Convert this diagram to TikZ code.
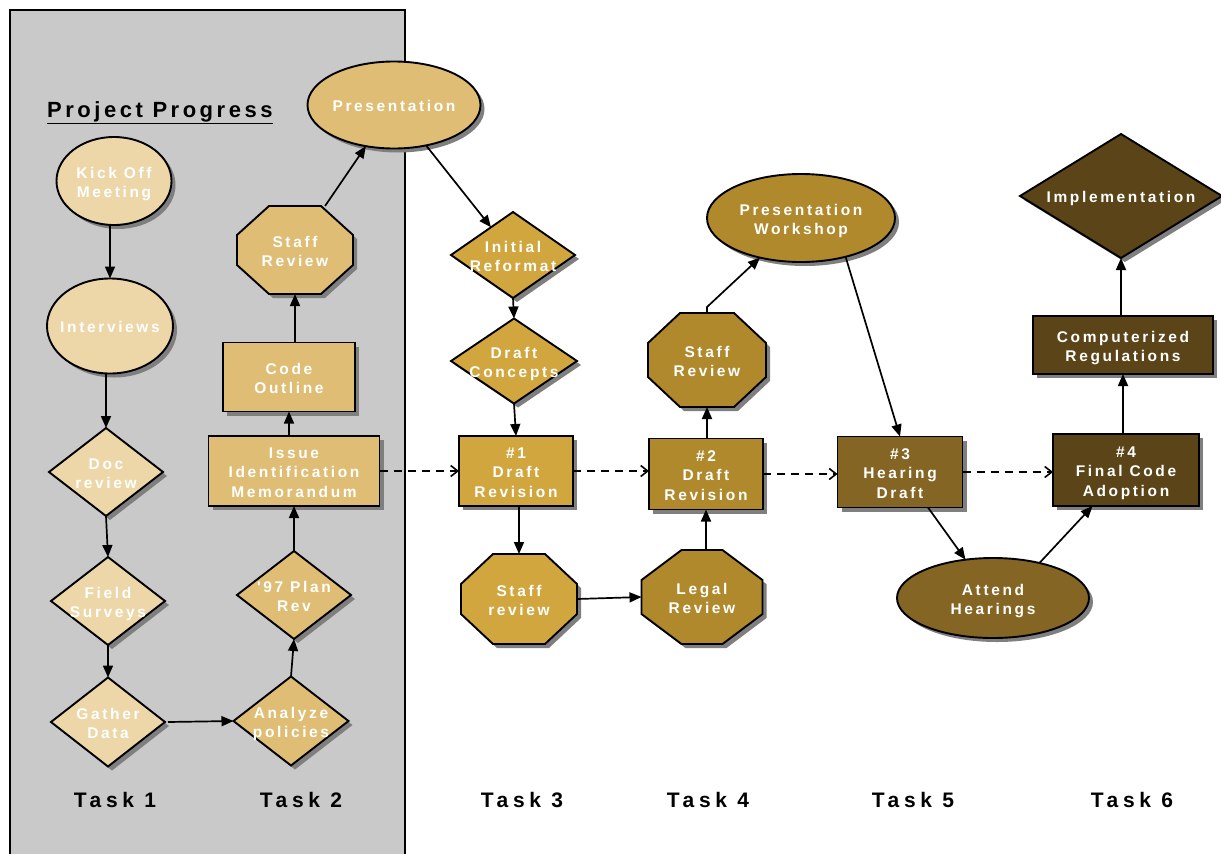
\documentclass[tikz,border=0pt]{standalone}
\usepackage{fontspec}
\setmainfont{Liberation Sans}
\newfontfamily\nodefont{Liberation Sans}[LetterSpace=17]
\newfontfamily\taskfont{Liberation Sans}[LetterSpace=22]
\newfontfamily\titlefont{Liberation Sans}[LetterSpace=16]
\usetikzlibrary{shapes.geometric,arrows.meta,calc}

\definecolor{cA}{HTML}{EDD7A8}
\definecolor{cB}{HTML}{DFBD74}
\definecolor{cC}{HTML}{D1A63F}
\definecolor{cD}{HTML}{B0892D}
\definecolor{cE}{HTML}{846524}
\definecolor{cF}{HTML}{5A4418}
\definecolor{panel}{HTML}{C9C9C9}
\definecolor{shadowcol}{HTML}{7F7F7F}

\newcommand\nt[1]{\makebox[0pt]{\smash{\raisebox{-6.5pt}{\fontsize{15.5}{19.5}\selectfont\nodefont\bfseries\color{white}\begin{tabular}{@{}c@{}}#1\end{tabular}}}}}

\tikzset{
  base/.style={inner sep=0pt, outer sep=0pt, draw=black, line width=1.9pt},
  shadowst/.style={draw=none, fill=shadowcol},
  ell/.style={base, ellipse},
  dia/.style={base, diamond},
  box/.style={base, rectangle},
  octfill/.style={draw=black, line width=1.9pt, line join=miter},
  hidden/.style={rectangle, inner sep=0pt, outer sep=0pt},
  arr/.style={line width=1.7pt, -{Triangle[length=12pt,width=10pt]}},
  darr/.style={line width=1.7pt, dash pattern=on 8pt off 6pt, -{Straight Barb[length=7pt,width=11pt,line width=1.6pt]}},
  task/.style={anchor=base, font=\fontsize{21}{25}\selectfont\taskfont\bfseries, inner sep=0pt}
}

% #1 style, #2 name, #3 x, #4 y, #5 w, #6 h, #7 colour, #8 text
\newcommand\shp[8]{%
  \node[#1, shadowst, minimum width=#5, minimum height=#6] (#2-sh) at (#3+4,#4+4) {};
  \node[#1, fill=#7, minimum width=#5, minimum height=#6] (#2) at (#3,#4) {\nt{#8}};
}
% octagon: #1 name, #2 x, #3 y, #4 w, #5 h, #6 cx, #7 cy, #8 colour, #9 text
\newcommand\octpath[4]{({-#1/2+#3},{-#2/2}) -- ({#1/2-#3},{-#2/2}) -- ({#1/2},{-#2/2+#4}) -- ({#1/2},{#2/2-#4}) -- ({#1/2-#3},{#2/2}) -- ({-#1/2+#3},{#2/2}) -- ({-#1/2},{#2/2-#4}) -- ({-#1/2},{-#2/2+#4}) -- cycle}
\newcommand\oct[9]{%
  \fill[shadowcol, shift={(#2+4,#3+4)}] \octpath{#4}{#5}{#6}{#7};
  \filldraw[octfill, fill=#8, shift={(#2,#3)}] \octpath{#4}{#5}{#6}{#7};
  \node[hidden, minimum width=#4, minimum height=#5] (#1) at (#2,#3) {\nt{#9}};
}

\begin{document}
\begin{tikzpicture}[x=1pt,y=-1pt]
\useasboundingbox (0,0) rectangle (1221,854);
\fill[white] (0,0) rectangle (1221,854);
% gray panel
\draw[fill=panel, line width=1.5pt] (10,870) -- (10,10) -- (405,10) -- (405,870);

% title
\node[anchor=base west, inner sep=0pt, font=\fontsize{22}{26}\selectfont\titlefont\bfseries] (title) at (47,117) {\underline{Project Progress}};

% Task 1
\shp{ell}{ko}{114}{181}{115}{88}{cA}{Kick Off\\Meeting}
\shp{ell}{iv}{110}{326}{126}{95}{cA}{Interviews}
\shp{dia}{dr}{106}{472}{114}{88}{cA}{Doc\\review}
\shp{dia}{fs}{108}{601}{114}{88}{cA}{Field\\Surveys}
\shp{dia}{gd}{108}{722}{114}{89}{cA}{Gather\\Data}

% Task 2
\shp{dia}{ap}{291}{721}{115}{89}{cB}{Analyze\\policies}
\shp{dia}{pr}{294}{595}{114}{88}{cB}{'97 Plan\\Rev}
\shp{box}{im}{294}{471}{171}{70}{cB}{Issue\\Identification\\Memorandum}
\shp{box}{co}{289}{377}{132}{69}{cB}{Code\\Outline}
\oct{sr2}{295}{250}{116}{88}{32}{29}{cB}{Staff\\Review}
\shp{ell}{pres}{394}{105}{173}{87}{cB}{Presentation}

% Task 3
\shp{dia}{ir}{513}{255}{124}{86}{cC}{Initial\\Reformat}
\shp{dia}{dc}{514}{361}{126}{85}{cC}{Draft\\Concepts}
\shp{box}{d1}{516}{471}{114}{70}{cC}{\#1\\Draft\\Revision}
\oct{sr3}{519}{599}{116}{90}{32}{30}{cC}{Staff\\review}

% Task 4
\oct{lr}{702}{597}{121}{94}{40}{30}{cD}{Legal\\Review}
\shp{box}{d2}{706}{474}{114}{71}{cD}{\#2\\Draft\\Revision}
\oct{sr4}{707}{360}{118}{94}{32}{30}{cD}{Staff\\Review}
\shp{ell}{pw}{801}{218}{188}{88}{cD}{Presentation\\Workshop}

% Task 5
\shp{box}{d3}{900}{472}{125}{71}{cE}{\#3\\Hearing\\Draft}
\shp{ell}{ah}{993}{598}{192}{80}{cE}{Attend\\Hearings}

% Task 6
\shp{box}{d4}{1126}{470}{146}{72}{cF}{\#4\\Final Code\\Adoption}
\shp{box}{cr}{1123}{345}{180}{58}{cF}{Computerized\\Regulations}
\shp{dia}{impl}{1121}{196}{202}{124}{cF}{Implementation}

% task labels
\node[task] (t1) at (115,807) {Task 1};
\node[task] (t2) at (301,807) {Task 2};
\node[task] (t3) at (522,807) {Task 3};
\node[task] (t4) at (708,807) {Task 4};
\node[task] (t5) at (913,807) {Task 5};
\node[task] (t6) at (1132,807) {Task 6};

% connectors Task 1-2
\draw[arr] (ko.south -| iv.north) -- (iv.north);
\draw[arr] (iv.south -| dr.north) -- (dr.north);
\draw[arr] (dr.south) -- (fs.north);
\draw[arr] (fs.south) -- (gd.north);
\draw[arr] ($(gd.east)+(3,0)$) -- (ap.west);
\draw[arr] (ap.north) -- (pr.south);
\draw[arr] (pr.north) -- (im.south);
\draw[arr] (im.north -| co.south) -- (co.south);
\draw[arr] (co.north -| sr2.south) -- (sr2.south);
\draw[arr] (sr2) -- (pres);
\draw[arr] (pres) -- (ir);

% Task 3-4
\draw[arr] (ir.south) -- (dc.north);
\draw[arr] (dc.south) -- (d1.north);
\draw[arr] (d1.south -| sr3.north) -- (sr3.north);
\draw[arr] (sr3.east) -- (lr.west);
\draw[arr] (lr.north -| d2.south) -- (d2.south);
\draw[arr] (d2.north -| sr4.south) -- (sr4.south);
\draw[arr] (sr4.north) -- ++(0,-6) -- (pw.224);
\draw[arr] (pw.-41) -- (d3.north);

% Task 5-6
\draw[arr] ($(d3.south)+(28,0)$) -- (ah);
\draw[arr] (ah.37) -- (d4);
\draw[arr] (d4.north -| cr.south) -- (cr.south);
\draw[arr] (cr.north -| impl.south) -- (impl.south);

% dashed
\draw[darr] (im.east) -- (d1.west);
\draw[darr] (d1.east) -- (d1.east -| d2.west);
\draw[darr] (d2.east) -- (d2.east -| d3.west);
\draw[darr] (d3.east) -- (d3.east -| d4.west);
\end{tikzpicture}
\end{document}
